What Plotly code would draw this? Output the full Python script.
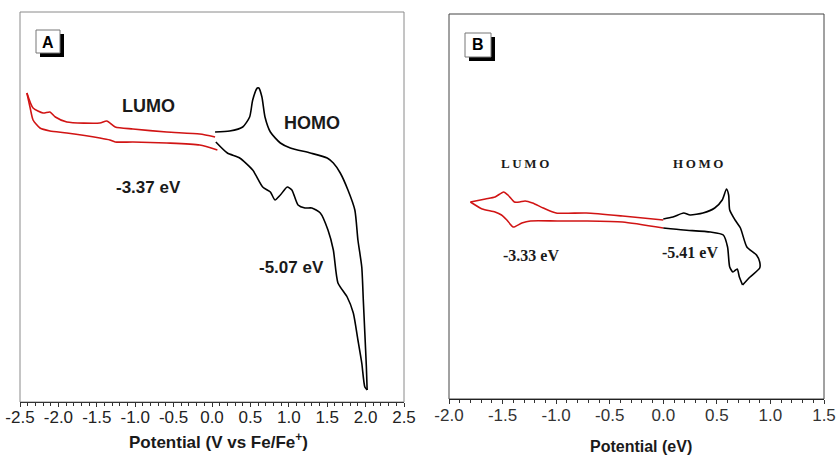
import plotly.graph_objects as go

# ---------------- Panel A data (potential in V vs Fc/Fc+, current in arb. units) ----------------
a_lumo_fwd_x = [-2.41, -2.33, -2.20, -2.11, -2.04, -1.89, -1.46, -1.37, -1.26, -1.03, -0.59, -0.16, 0.04]
a_lumo_fwd_y = [16.7, 15.2, 14.7, 14.8, 14.3, 13.8, 13.7, 13.9, 13.3, 13.1, 12.8, 12.6, 12.3]
a_lumo_rev_x = [-2.41, -2.37, -2.33, -2.24, -2.11, -1.89, -1.46, -1.33, -1.26, -1.03, -0.59, -0.16, 0.07]
a_lumo_rev_y = [16.7, 15.3, 14.0, 13.2, 12.9, 12.7, 12.2, 12.0, 11.8, 11.8, 11.7, 11.5, 11.0]

a_homo_top_x = [0.04, 0.23, 0.40, 0.49, 0.53, 0.59, 0.61, 0.65, 0.69, 0.76, 0.89, 1.02, 1.28, 1.50,
                1.58, 1.67, 1.77, 1.86, 1.90, 1.95, 1.97, 1.99, 2.01, 2.02]
a_homo_top_y = [12.8, 12.9, 13.3, 14.3, 16.0, 17.2, 17.2, 16.3, 14.3, 12.8, 11.7, 11.2, 10.7, 10.2,
                9.7, 8.7, 7.0, 5.0, 2.0, -0.7, -4.0, -7.3, -10.7, -13.0]
a_homo_bot_x = [0.05, 0.20, 0.36, 0.53, 0.66, 0.76, 0.82, 0.89, 0.98, 1.04, 1.12, 1.21, 1.30, 1.41,
                1.51, 1.58, 1.64, 1.76, 1.84, 1.90, 1.95, 1.99, 2.02]
a_homo_bot_y = [11.8, 10.7, 10.2, 9.0, 7.3, 6.8, 6.0, 6.5, 7.3, 7.0, 5.5, 5.2, 5.2, 4.7,
                3.0, 1.0, -2.3, -3.7, -5.3, -8.0, -10.3, -12.7, -13.0]

# ---------------- Panel B data (potential in eV, current in arb. units) ----------------
b_lumo_fwd_x = [-1.80, -1.66, -1.57, -1.49, -1.45, -1.39, -1.34, -1.29, -1.22, -1.12, -1.00, -0.72, -0.38, 0.00]
b_lumo_fwd_y = [5.8, 6.1, 6.3, 6.8, 6.5, 5.8, 5.8, 5.9, 5.7, 5.2, 4.7, 4.7, 4.4, 4.0]
b_lumo_rev_x = [-1.80, -1.69, -1.57, -1.51, -1.46, -1.40, -1.32, -1.24, -0.99, -0.72, -0.38, 0.00]
b_lumo_rev_y = [5.8, 5.1, 4.8, 4.5, 4.0, 3.3, 3.7, 3.9, 3.9, 3.9, 3.8, 3.2]

b_homo_top_x = [0.00, 0.09, 0.19, 0.25, 0.37, 0.48, 0.55, 0.59, 0.61, 0.62, 0.67, 0.72, 0.78,
                0.87, 0.90, 0.90, 0.81, 0.74]
b_homo_top_y = [4.1, 4.3, 4.7, 4.5, 4.7, 5.2, 6.0, 7.1, 6.5, 5.0, 4.0, 3.2, 1.3,
                0.5, -0.2, -0.8, -1.7, -2.5]
b_homo_bot_x = [0.00, 0.19, 0.44, 0.56, 0.60, 0.62, 0.65, 0.69, 0.71, 0.74]
b_homo_bot_y = [3.2, 3.0, 2.8, 2.5, 1.3, -0.7, -1.2, -0.9, -1.7, -2.5]

a_ticks = [-2.5, -2.0, -1.5, -1.0, -0.5, 0.0, 0.5, 1.0, 1.5, 2.0, 2.5]
b_ticks = [-2.0, -1.5, -1.0, -0.5, 0.0, 0.5, 1.0, 1.5]

RED = "#d11414"
BLACK = "#000000"
W, H = 840, 455

fig = go.Figure()

def add_line(x, y, color, xa, ya):
    fig.add_trace(go.Scatter(x=x, y=y, mode="lines", xaxis=xa, yaxis=ya,
                             line=dict(color=color, width=1.6, shape="spline", smoothing=0.6),
                             showlegend=False, hoverinfo="skip"))

add_line(a_lumo_fwd_x, a_lumo_fwd_y, RED, "x", "y")
add_line(a_lumo_rev_x, a_lumo_rev_y, RED, "x", "y")
add_line(a_homo_top_x, a_homo_top_y, BLACK, "x", "y")
add_line(a_homo_bot_x, a_homo_bot_y, BLACK, "x", "y")
add_line(b_lumo_fwd_x, b_lumo_fwd_y, RED, "x2", "y2")
add_line(b_lumo_rev_x, b_lumo_rev_y, RED, "x2", "y2")
add_line(b_homo_top_x, b_homo_top_y, BLACK, "x2", "y2")
add_line(b_homo_bot_x, b_homo_bot_y, BLACK, "x2", "y2")

def px(x):
    return x / W

def py(y):
    return 1 - y / H

tickfont_a = dict(family="Liberation Sans, Arial", size=17, color="#222")
tickfont_b = dict(family="Liberation Sans, Arial", size=17, color="#333")

fig.update_layout(
    width=W, height=H, margin=dict(l=0, r=0, t=0, b=0, autoexpand=False),
    paper_bgcolor="white", plot_bgcolor="white",
    xaxis=dict(domain=[px(20), px(404)], range=[-2.5, 2.5], tickvals=a_ticks, automargin=False,
               ticktext=[f"{v:.1f}" for v in a_ticks], ticks="outside", ticklen=4,
               ticklabelstandoff=-4,
               tickcolor="#333", showline=True, linecolor="#333", linewidth=1,
               showgrid=False, zeroline=False, tickfont=tickfont_a,
               minor=dict(dtick=0.1, ticks="outside", ticklen=3, tickcolor="#333", showgrid=False)),
    yaxis=dict(domain=[py(402), py(12)], range=[-14.2, 24.8], showticklabels=False, automargin=False,
               ticks="", showgrid=False, zeroline=False, showline=False),
    xaxis2=dict(domain=[px(449), px(824)], range=[-2.0, 1.5], tickvals=b_ticks, automargin=False,
                ticktext=[f"{v:.1f}" for v in b_ticks], ticks="outside", ticklen=4,
                ticklabelstandoff=-3,
                tickcolor="#333", showline=True, linecolor="#222", linewidth=1,
                showgrid=False, zeroline=False, tickfont=tickfont_b, anchor="y2",
                minor=dict(dtick=0.1, ticks="outside", ticklen=3, tickcolor="#333", showgrid=False)),
    yaxis2=dict(domain=[py(399), py(14)], range=[-13.9, 24.6], showticklabels=False, automargin=False,
                ticks="", showgrid=False, zeroline=False, showline=False, anchor="x2"),
)

shapes = [
    dict(type="rect", xref="x domain", yref="y domain", x0=0, x1=1, y0=0, y1=1,
         line=dict(color="#8a8a8a", width=1), layer="below"),
    dict(type="rect", xref="x2 domain", yref="y2 domain", x0=0, x1=1, y0=0, y1=1,
         line=dict(color="#444", width=1), layer="below"),
    # panel tag boxes with drop shadow
    dict(type="rect", xref="paper", yref="paper", x0=px(40), x1=px(64), y0=py(57), y1=py(34),
         fillcolor="black", line=dict(width=0)),
    dict(type="rect", xref="paper", yref="paper", x0=px(36), x1=px(60), y0=py(53), y1=py(30),
         fillcolor="white", line=dict(color="#777", width=1)),
    dict(type="rect", xref="paper", yref="paper", x0=px(469), x1=px(495), y0=py(61), y1=py(37),
         fillcolor="black", line=dict(width=0)),
    dict(type="rect", xref="paper", yref="paper", x0=px(465), x1=px(491), y0=py(57), y1=py(33),
         fillcolor="white", line=dict(color="#777", width=1)),
]
fig.update_layout(shapes=shapes)

sans_b = "Liberation Sans, Arial"
serif_b = "Liberation Serif, Times New Roman"

def note(text, x, y, family, size, color="#1a1a1a"):
    fig.add_annotation(text=text, x=px(x), y=py(y), xref="paper", yref="paper",
                       showarrow=False, xanchor="center", yanchor="middle",
                       font=dict(family=family, size=size, color=color))

note("<b>A</b>", 48, 42, sans_b, 16, "black")
note("<b>B</b>", 478, 45, sans_b, 16, "black")
note("<b>LUMO</b>", 148, 106, sans_b, 18)
note("<b>HOMO</b>", 312, 123, sans_b, 18)
note("<b>-3.37 eV</b>", 148, 187, sans_b, 17)
note("<b>-5.07 eV</b>", 291, 267, sans_b, 17)
note("<b>L\u2009U\u2009M\u2009O</b>", 525, 163, serif_b, 13)
note("<b>H\u2009O\u2009M\u2009O</b>", 698, 163, serif_b, 13)
note("<b>-3.33 eV</b>", 531, 255, serif_b, 16)
note("<b>-5.41 eV</b>", 690, 252, serif_b, 16)
note("<b>Potential (V vs Fe/Fe<sup>+</sup>)</b>", 218, 441, sans_b, 17)
note("<b>Potential (eV)</b>", 641, 446, sans_b, 16)

fig.write_html("out.html")
